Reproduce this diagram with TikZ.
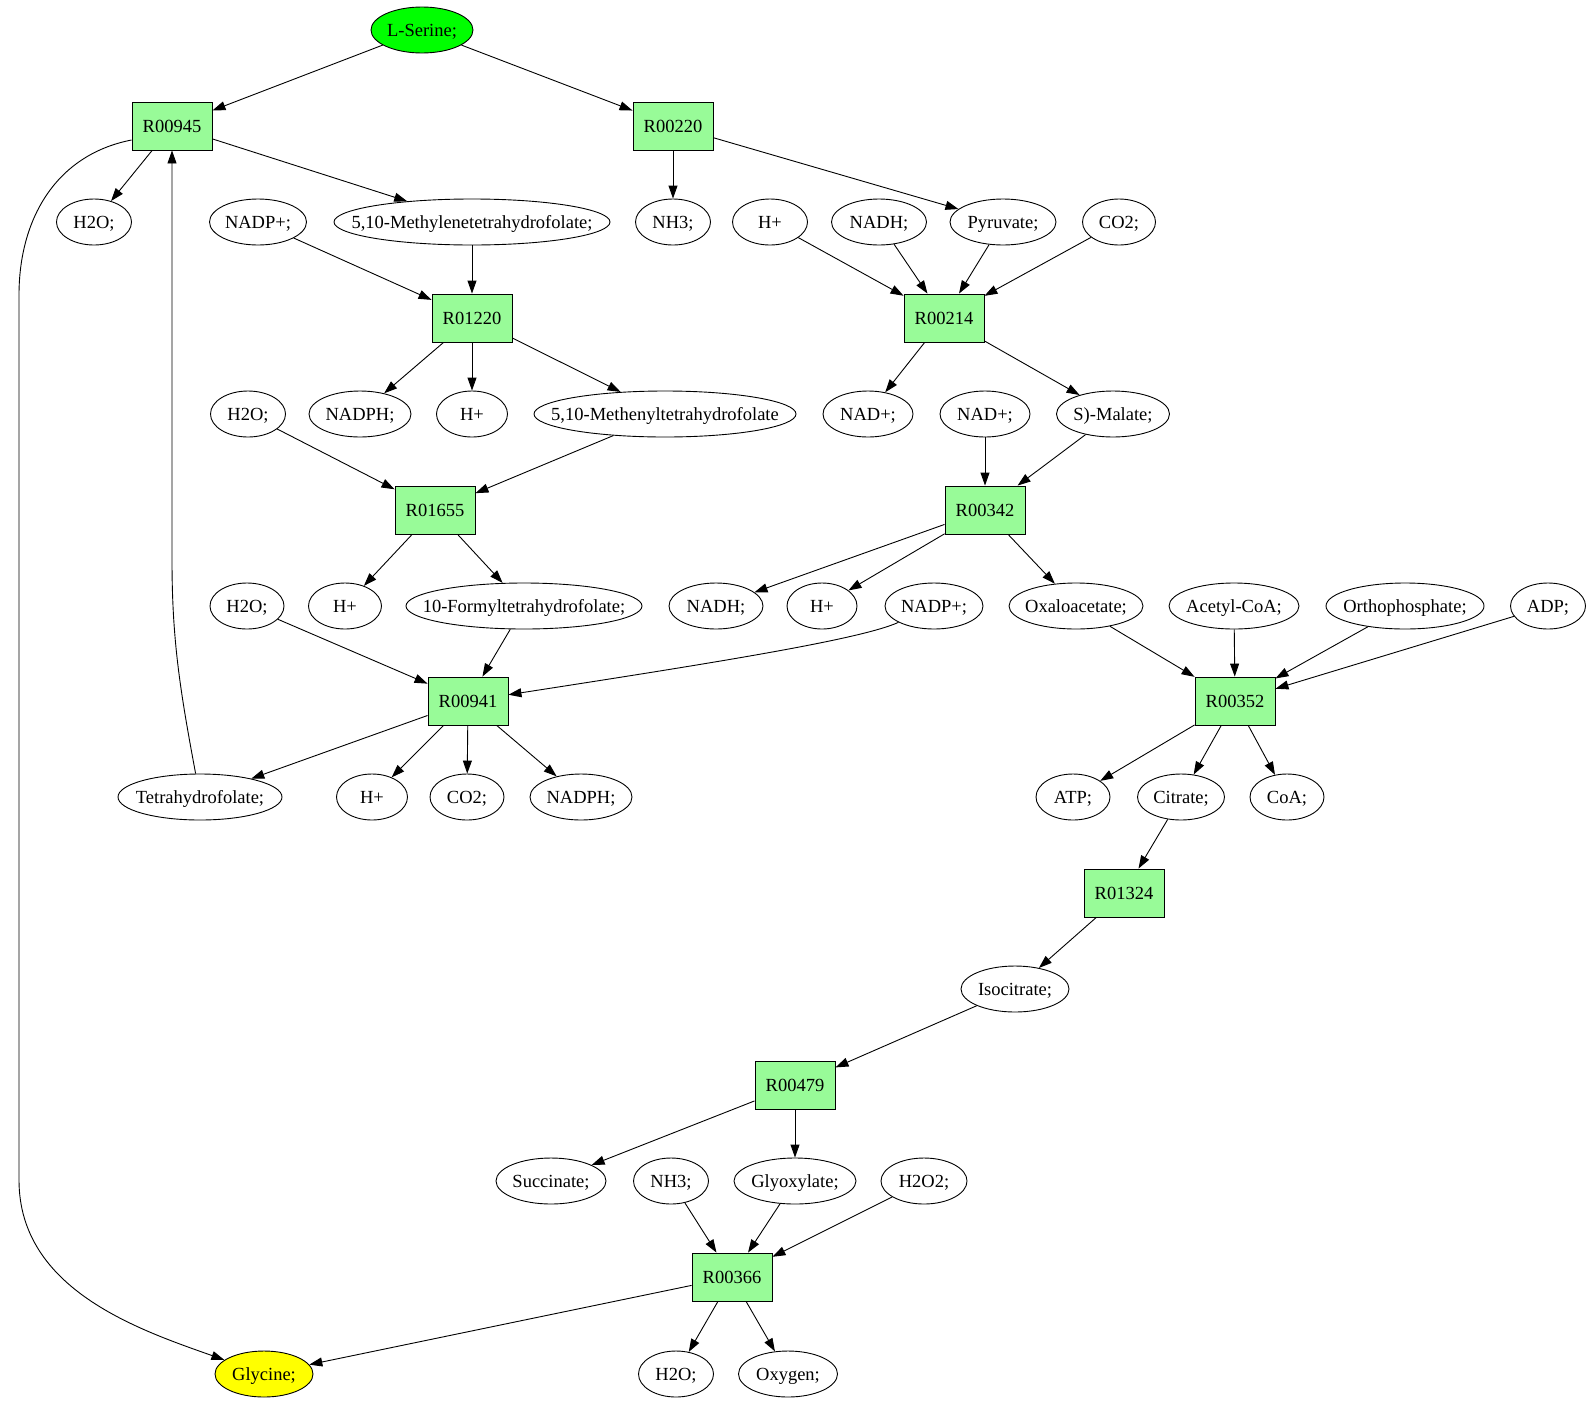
\documentclass[tikz,border=0pt]{standalone}
\usepackage{fontspec}
\setmainfont{Liberation Serif}
\usetikzlibrary{shapes.geometric,arrows.meta}
\definecolor{srcgreen}{RGB}{0,255,0}
\definecolor{rxngreen}{RGB}{152,251,152}
\definecolor{endyellow}{RGB}{255,255,0}
\begin{document}
\begin{tikzpicture}[x=1pt,y=-1pt,
	font=\fontsize{18.5}{22}\selectfont,
	every node/.style={line width=0.9pt, text height=17pt, text depth=3.5pt},
	rxn/.style={draw, fill=rxngreen, minimum width=80pt, minimum height=48pt, inner sep=0pt},
	met/.style={draw, ellipse, inner xsep=-30pt, inner ysep=0pt, minimum height=46pt},
	flow/.style={-{Triangle[length=13pt,width=9pt]}, line width=0.9pt}]
	\useasboundingbox (0,0) rectangle (1592,1403);
	\node[met, fill=srcgreen, minimum width=102pt] (lser) at (422,30) {L-Serine;};
	\node[rxn] (r00945) at (172,126) {R00945};
	\node[rxn] (r00220) at (673,126) {R00220};
	\node[met, minimum width=75pt] (h2oa) at (94,222) {H2O;};
	\node[met, minimum width=97pt] (nadpa) at (258,222) {NADP+;};
	\node[met, minimum width=276pt] (mthf) at (472,222) {5,10-Methylenetetrahydrofolate;};
	\node[met, minimum width=75pt] (nh3a) at (673,222) {NH3;};
	\node[met, minimum width=75pt] (hpa) at (770,222) {H+};
	\node[met, minimum width=95pt] (nadha) at (879,222) {NADH;};
	\node[met, minimum width=106pt] (pyr) at (1003,222) {Pyruvate;};
	\node[met, minimum width=73pt] (co2a) at (1119,222) {CO2;};
	\node[rxn] (r01220) at (472,318) {R01220};
	\node[rxn] (r00214) at (944,318) {R00214};
	\node[met, minimum width=75pt] (h2ob) at (248,414) {H2O;};
	\node[met, minimum width=102pt] (nadpha) at (360,414) {NADPH;};
	\node[met, minimum width=71pt] (hpb) at (472,414) {H+};
	\node[met, minimum width=262pt] (methf) at (665,414) {5,10-Methenyltetrahydrofolate};
	\node[met, minimum width=90pt] (nada) at (868,414) {NAD+;};
	\node[met, minimum width=90pt] (nadb) at (985,414) {NAD+;};
	\node[met, minimum width=113pt] (mal) at (1113,414) {S)-Malate;};
	\node[rxn] (r01655) at (435,510) {R01655};
	\node[rxn] (r00342) at (985,510) {R00342};
	\node[met, minimum width=74pt] (h2oc) at (247,606) {H2O;};
	\node[met, minimum width=73pt] (hpc) at (345,606) {H+};
	\node[met, minimum width=236pt] (fthf) at (524,606) {10-Formyltetrahydrofolate;};
	\node[met, minimum width=94pt] (nadhb) at (716,606) {NADH;};
	\node[met, minimum width=70pt] (hpd) at (822,606) {H+};
	\node[met, minimum width=98pt] (nadpb) at (934,606) {NADP+;};
	\node[met, minimum width=134pt] (oaa) at (1076,606) {Oxaloacetate;};
	\node[met, minimum width=130pt] (accoa) at (1234,606) {Acetyl-CoA;};
	\node[met, minimum width=158pt] (pi) at (1405,606) {Orthophosphate;};
	\node[met, minimum width=75pt] (adp) at (1548,606) {ADP;};
	\node[rxn] (r00941) at (468,701) {R00941};
	\node[rxn] (r00352) at (1235,701) {R00352};
	\node[met, minimum width=164pt] (thf) at (200,797) {Tetrahydrofolate;};
	\node[met, minimum width=71pt] (hpe) at (372,797) {H+};
	\node[met, minimum width=74pt] (co2b) at (467,797) {CO2;};
	\node[met, minimum width=102pt] (nadphb) at (581,797) {NADPH;};
	\node[met, minimum width=74pt] (atp) at (1073,797) {ATP;};
	\node[met, minimum width=87pt] (cit) at (1181,797) {Citrate;};
	\node[met, minimum width=74pt] (coa) at (1287,797) {CoA;};
	\node[rxn] (r01324) at (1124,893) {R01324};
	\node[met, minimum width=108pt] (icit) at (1015,989) {Isocitrate;};
	\node[rxn] (r00479) at (795,1085) {R00479};
	\node[met, minimum width=110pt] (succ) at (551,1181) {Succinate;};
	\node[met, minimum width=75pt] (nh3b) at (671,1181) {NH3;};
	\node[met, minimum width=122pt] (glx) at (795,1181) {Glyoxylate;};
	\node[met, minimum width=86pt] (h2o2) at (924,1181) {H2O2;};
	\node[rxn] (r00366) at (732,1277) {R00366};
	\node[met, fill=endyellow, minimum width=98pt] (gly) at (264,1374) {Glycine;};
	\node[met, minimum width=75pt] (h2od) at (676,1374) {H2O;};
	\node[met, minimum width=99pt] (oxy) at (788,1374) {Oxygen;};
	\draw[flow] (lser) -- (r00945);
	\draw[flow] (lser) -- (r00220);
	\draw[flow] (r00945) -- (h2oa);
	\draw[flow] (r00945) -- (mthf);
	\draw[flow] ([yshift=-14pt]r00945.west) .. controls (55,155) and (19,220) .. (19,295) -- (19,1180) .. controls (19,1290) and (140,1330) .. (gly);
	\draw[flow] (thf) .. controls (180,690) and (172,640) .. (172,560) -- (r00945);
	\draw[flow] (r00220) -- (nh3a);
	\draw[flow] (r00220) -- (pyr);
	\draw[flow] (nadpa) -- (r01220);
	\draw[flow] (mthf) -- (r01220);
	\draw[flow] (r01220) -- (nadpha);
	\draw[flow] (r01220) -- (hpb);
	\draw[flow] (r01220) -- (methf);
	\draw[flow] (hpa) -- (r00214);
	\draw[flow] (nadha) -- (r00214);
	\draw[flow] (pyr) -- (r00214);
	\draw[flow] (co2a) -- (r00214);
	\draw[flow] (r00214) -- (nada);
	\draw[flow] (r00214) -- (mal);
	\draw[flow] (h2ob) -- (r01655);
	\draw[flow] (methf) -- (r01655);
	\draw[flow] (nadb) -- (r00342);
	\draw[flow] (mal) -- (r00342);
	\draw[flow] (r01655) -- (hpc);
	\draw[flow] (r01655) -- (fthf);
	\draw[flow] (r00342) -- (nadhb);
	\draw[flow] (r00342) -- (hpd);
	\draw[flow] (r00342) -- (oaa);
	\draw[flow] (h2oc) -- (r00941);
	\draw[flow] (fthf) -- (r00941);
	\draw[flow] (nadpb) .. controls (860,640) and (700,665) .. (r00941);
	\draw[flow] (oaa) -- (r00352);
	\draw[flow] (accoa) -- (r00352);
	\draw[flow] (pi) -- (r00352);
	\draw[flow] (adp) -- (r00352);
	\draw[flow] (r00941) -- (thf);
	\draw[flow] (r00941) -- (hpe);
	\draw[flow] (r00941) -- (co2b);
	\draw[flow] (r00941) -- (nadphb);
	\draw[flow] (r00352) -- (atp);
	\draw[flow] (r00352) -- (cit);
	\draw[flow] (r00352) -- (coa);
	\draw[flow] (cit) -- (r01324);
	\draw[flow] (r01324) -- (icit);
	\draw[flow] (icit) -- (r00479);
	\draw[flow] (r00479) -- (succ);
	\draw[flow] (r00479) -- (glx);
	\draw[flow] (nh3b) -- (r00366);
	\draw[flow] (glx) -- (r00366);
	\draw[flow] (h2o2) -- (r00366);
	\draw[flow] (r00366) -- (gly);
	\draw[flow] (r00366) -- (h2od);
	\draw[flow] (r00366) -- (oxy);
\end{tikzpicture}
\end{document}
